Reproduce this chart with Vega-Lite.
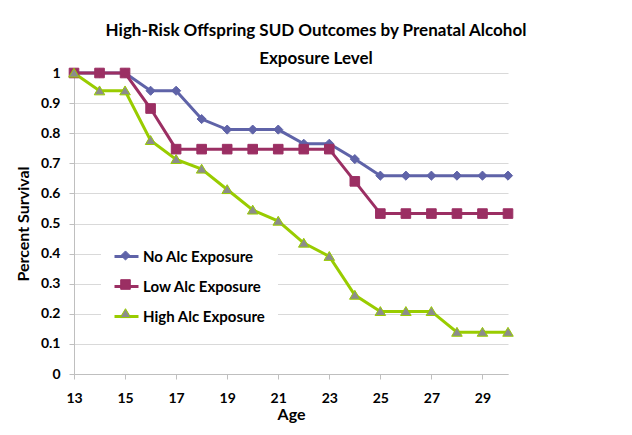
{
  "$schema": "https://vega.github.io/schema/vega-lite/v6.json",
  "width": 434,
  "height": 301,
  "autosize": {"type": "none"},
  "padding": {"left": 74, "top": 73, "right": 124, "bottom": 61},
  "background": "white",
  "config": {"view": {"stroke": null}, "font": "Lato"},
  "title": {
    "text": ["High-Risk Offspring SUD Outcomes by Prenatal Alcohol", "Exposure Level"],
    "fontSize": 17,
    "fontWeight": "bold",
    "lineHeight": 28,
    "color": "black",
    "anchor": "middle",
    "frame": "group",
    "dx": 25,
    "offset": -2
  },
  "data": {
    "values": [
      {"age": 13, "series": "No Alc Exposure", "value": 1},
      {"age": 14, "series": "No Alc Exposure", "value": 1},
      {"age": 15, "series": "No Alc Exposure", "value": 1},
      {"age": 16, "series": "No Alc Exposure", "value": 0.941},
      {"age": 17, "series": "No Alc Exposure", "value": 0.941},
      {"age": 18, "series": "No Alc Exposure", "value": 0.847},
      {"age": 19, "series": "No Alc Exposure", "value": 0.812},
      {"age": 20, "series": "No Alc Exposure", "value": 0.812},
      {"age": 21, "series": "No Alc Exposure", "value": 0.812},
      {"age": 22, "series": "No Alc Exposure", "value": 0.765},
      {"age": 23, "series": "No Alc Exposure", "value": 0.765},
      {"age": 24, "series": "No Alc Exposure", "value": 0.714},
      {"age": 25, "series": "No Alc Exposure", "value": 0.659},
      {"age": 26, "series": "No Alc Exposure", "value": 0.659},
      {"age": 27, "series": "No Alc Exposure", "value": 0.659},
      {"age": 28, "series": "No Alc Exposure", "value": 0.659},
      {"age": 29, "series": "No Alc Exposure", "value": 0.659},
      {"age": 30, "series": "No Alc Exposure", "value": 0.659},
      {"age": 13, "series": "Low Alc Exposure", "value": 1},
      {"age": 14, "series": "Low Alc Exposure", "value": 1},
      {"age": 15, "series": "Low Alc Exposure", "value": 1},
      {"age": 16, "series": "Low Alc Exposure", "value": 0.882},
      {"age": 17, "series": "Low Alc Exposure", "value": 0.747},
      {"age": 18, "series": "Low Alc Exposure", "value": 0.747},
      {"age": 19, "series": "Low Alc Exposure", "value": 0.747},
      {"age": 20, "series": "Low Alc Exposure", "value": 0.747},
      {"age": 21, "series": "Low Alc Exposure", "value": 0.747},
      {"age": 22, "series": "Low Alc Exposure", "value": 0.747},
      {"age": 23, "series": "Low Alc Exposure", "value": 0.747},
      {"age": 24, "series": "Low Alc Exposure", "value": 0.64},
      {"age": 25, "series": "Low Alc Exposure", "value": 0.533},
      {"age": 26, "series": "Low Alc Exposure", "value": 0.533},
      {"age": 27, "series": "Low Alc Exposure", "value": 0.533},
      {"age": 28, "series": "Low Alc Exposure", "value": 0.533},
      {"age": 29, "series": "Low Alc Exposure", "value": 0.533},
      {"age": 30, "series": "Low Alc Exposure", "value": 0.533},
      {"age": 13, "series": "High Alc Exposure", "value": 1},
      {"age": 14, "series": "High Alc Exposure", "value": 0.941},
      {"age": 15, "series": "High Alc Exposure", "value": 0.941},
      {"age": 16, "series": "High Alc Exposure", "value": 0.776},
      {"age": 17, "series": "High Alc Exposure", "value": 0.713},
      {"age": 18, "series": "High Alc Exposure", "value": 0.681},
      {"age": 19, "series": "High Alc Exposure", "value": 0.613},
      {"age": 20, "series": "High Alc Exposure", "value": 0.545},
      {"age": 21, "series": "High Alc Exposure", "value": 0.508},
      {"age": 22, "series": "High Alc Exposure", "value": 0.435},
      {"age": 23, "series": "High Alc Exposure", "value": 0.391},
      {"age": 24, "series": "High Alc Exposure", "value": 0.262},
      {"age": 25, "series": "High Alc Exposure", "value": 0.208},
      {"age": 26, "series": "High Alc Exposure", "value": 0.208},
      {"age": 27, "series": "High Alc Exposure", "value": 0.208},
      {"age": 28, "series": "High Alc Exposure", "value": 0.139},
      {"age": 29, "series": "High Alc Exposure", "value": 0.139},
      {"age": 30, "series": "High Alc Exposure", "value": 0.139}
    ]
  },
  "encoding": {
    "x": {
      "field": "age", "type": "quantitative",
      "scale": {"domain": [13, 30], "nice": false, "zero": false},
      "axis": {
        "title": "Age", "values": [13, 15, 17, 19, 21, 23, 25, 27, 29],
        "labelOverlap": false, "labelFlush": false,
        "grid": false, "domainColor": "#BFBFBF", "tickColor": "#BFBFBF", "tickSize": 5,
        "labelFontSize": 14, "labelFontWeight": "bold", "labelColor": "black", "labelPadding": 12,
        "titleFontSize": 16, "titleFontWeight": "bold", "titleColor": "black", "titlePadding": 1
      }
    },
    "y": {
      "field": "value", "type": "quantitative",
      "scale": {"domain": [0, 1], "nice": false},
      "axis": {
        "title": "Percent Survival", "values": [0, 0.1, 0.2, 0.3, 0.4, 0.5, 0.6, 0.7, 0.8, 0.9, 1],
        "tickCount": 11, "format": "~g", "labelOverlap": false, "labelFlush": false,
        "grid": true, "gridColor": "#D9D9D9", "domainColor": "#BFBFBF", "tickColor": "#BFBFBF", "tickSize": 5,
        "labelFontSize": 14, "labelFontWeight": "bold", "labelColor": "black", "labelPadding": 9,
        "titleFontSize": 16, "titleFontWeight": "bold", "titleColor": "black", "titlePadding": 9
      }
    }
  },
  "layer": [
    {
      "mark": {"type": "line", "strokeWidth": 3},
      "encoding": {
        "color": {
          "field": "series", "type": "nominal",
          "scale": {"domain": ["No Alc Exposure", "Low Alc Exposure", "High Alc Exposure"], "range": ["#5F63A8", "#9B2F63", "#99CC00"]},
          "legend": {
            "orient": "none", "legendX": 27, "legendY": 158, "title": null,
            "symbolType": "stroke", "symbolSize": 576, "symbolStrokeWidth": 3,
            "labelFontSize": 15, "labelFontWeight": "bold", "labelColor": "black", "labelOffset": 3,
            "rowPadding": 8, "padding": 12, "fillColor": "white", "zindex": 0
          }
        }
      }
    },
    {
      "mark": {"type": "point", "filled": true, "size": 576, "strokeWidth": 1, "opacity": 1},
      "encoding": {
        "fill": {
          "field": "series", "type": "nominal",
          "sort": ["No Alc Exposure", "Low Alc Exposure", "High Alc Exposure"],
          "scale": {"range": ["#5F63A8", "#9B2F63", "#8C8C8C"]},
          "legend": null
        },
        "stroke": {
          "field": "series", "type": "nominal",
          "sort": ["No Alc Exposure", "Low Alc Exposure", "High Alc Exposure"],
          "scale": {"range": ["#5F63A8", "#9B2F63", "#99CC00"]},
          "legend": null
        },
        "shape": {
          "field": "series", "type": "nominal",
          "sort": ["No Alc Exposure", "Low Alc Exposure", "High Alc Exposure"],
          "scale": {"range": ["M0,-0.38L0.38,0L0,0.38L-0.38,0Z", "M-0.4,-0.4H0.4V0.4H-0.4Z", "M0,-0.4L0.44,0.34H-0.44Z"]},
          "legend": {
            "orient": "none", "legendX": 27, "legendY": 158, "title": null,
            "symbolSize": 576, "symbolStrokeWidth": 1,
            "labelFontSize": 15, "labelFontWeight": "bold", "labelExpr": "''", "labelOffset": 3,
            "rowPadding": 8, "padding": 12, "zindex": 1,
            "encoding": {
              "symbols": {
                "fill": {"value": {"expr": "datum.value === 'High Alc Exposure' ? '#8C8C8C' : datum.value === 'Low Alc Exposure' ? '#9B2F63' : '#5F63A8'"}},
                "stroke": {"value": {"expr": "datum.value === 'High Alc Exposure' ? '#99CC00' : datum.value === 'Low Alc Exposure' ? '#9B2F63' : '#5F63A8'"}},
                "strokeWidth": {"value": 1},
                "opacity": {"value": 1},
                "fillOpacity": {"value": 1}
              }
            }
          }
        }
      }
    }
  ]
}
